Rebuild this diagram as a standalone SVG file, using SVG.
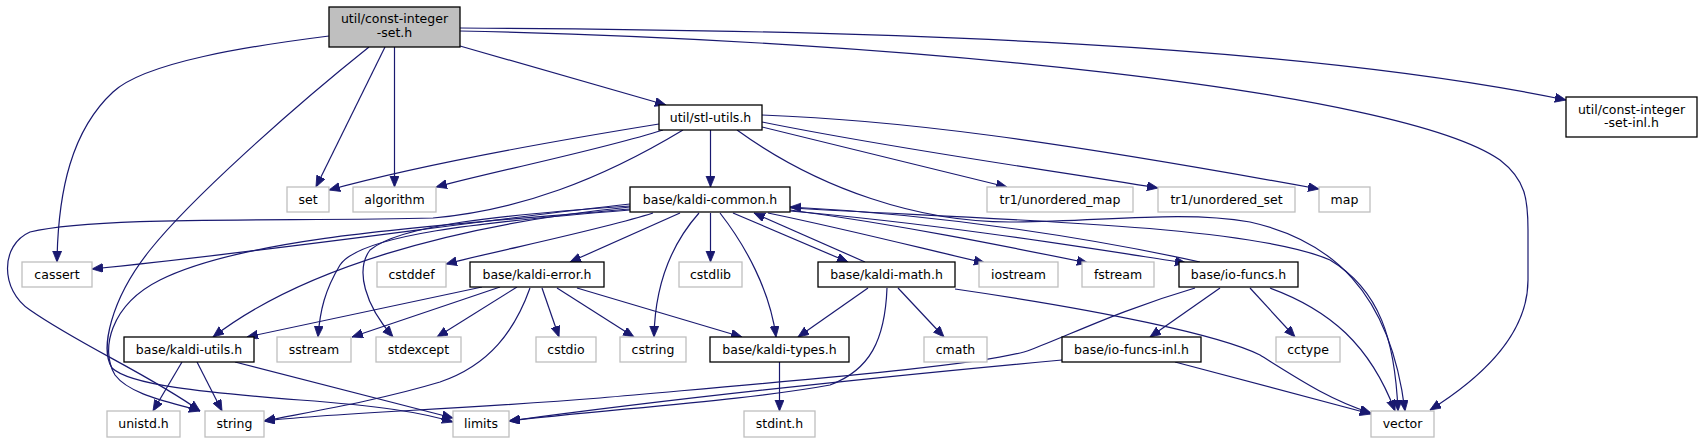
<svg xmlns="http://www.w3.org/2000/svg" width="1703" height="443" viewBox="0 0 1703 443">
<style>
.n rect{fill:#fff;stroke:#000;stroke-width:1.3}
.g rect{fill:#fff;stroke:#bfbfbf;stroke-width:1.3}
.r rect{fill:#bfbfbf;stroke:#000;stroke-width:1.3}
text{font-family:"DejaVu Sans","Liberation Sans",sans-serif;font-size:12.5px;fill:#000;text-anchor:middle}
#edges path{fill:none;stroke:#191970;stroke-width:1.2;marker-end:url(#ah)}
</style>
<defs>
<marker id="ah" markerUnits="userSpaceOnUse" markerWidth="12" markerHeight="10" refX="11" refY="4.5" orient="auto">
<path d="M0,0 L11,4.5 L0,9 z" fill="#191970" stroke="#191970" stroke-width="0.8"/>
</marker>
</defs>
<rect width="1703" height="443" fill="#fff"/>
<g id="edges">
<path d="M460,46 L666,105"/>
<path d="M385,47 L316,187"/>
<path d="M394.5,47 L394.5,187"/>
<path d="M329,36 C250,46 145,62 113,92 C72,130 58,190 57,262"/>
<path d="M369,47 C290,110 190,200 150,250 C110,300 100,350 112,368 C130,385 200,392 300,400 C380,406 420,412 453,422"/>
<path d="M460,28 C900,30 1300,45 1566,100"/>
<path d="M460,31 C900,40 1400,90 1500,160 C1526,180 1528,200 1528,230 L1528,280 C1528,340 1470,385 1430,410"/>
<path d="M659,124 C560,140 420,165 329,190"/>
<path d="M663,130 C600,150 500,170 436,187"/>
<path d="M683,130 C600,180 520,210 433,218 C300,222 100,215 30,232 C0,245 0,290 30,310 C80,345 150,375 200,411"/>
<path d="M710.5,130 L710.5,187"/>
<path d="M762,127 L1007,187"/>
<path d="M762,122 C900,150 1050,170 1158,188"/>
<path d="M762,115 C900,120 1050,140 1319,189"/>
<path d="M737,130 C820,190 920,222 1010,222 C1100,222 1180,210 1250,222 C1330,240 1390,290 1405,411"/>
<path d="M630,204 C480,220 300,248 92,269"/>
<path d="M630,207 C450,225 300,270 213,337"/>
<path d="M630,209 C450,225 250,235 160,280 C110,305 100,350 115,375 C130,395 170,402 200,411"/>
<path d="M630,210 C480,222 360,235 340,265 C325,290 320,310 318,337"/>
<path d="M630,206 C500,215 400,225 370,250 C355,270 365,305 393,337"/>
<path d="M653,213 C600,230 500,250 446,264"/>
<path d="M680,213 L570,262"/>
<path d="M699,213 C675,240 655,280 654,337"/>
<path d="M710.5,213 L710.5,262"/>
<path d="M720,213 C745,245 770,290 776,337"/>
<path d="M733,213 L848,262"/>
<path d="M768,213 C850,230 920,248 985,263"/>
<path d="M790,210 C900,225 1000,245 1088,263"/>
<path d="M790,211 C950,225 1100,250 1186,263"/>
<path d="M790,208 C1000,220 1250,225 1330,260 C1380,290 1395,340 1398,411"/>
<path d="M865,262 L754,213"/>
<path d="M1200,262 C1100,240 950,215 790,207"/>
<path d="M868,288 L798,337"/>
<path d="M898,288 L944,337"/>
<path d="M887,288 C885,340 870,370 830,385 C750,400 600,410 509,421"/>
<path d="M955,289 C1100,310 1220,335 1260,355 C1300,380 1330,400 1371,413"/>
<path d="M1220,288 L1150,337"/>
<path d="M1250,288 L1295,337"/>
<path d="M1270,288 C1330,310 1370,345 1395,411"/>
<path d="M1195,288 C1120,310 1070,335 1030,350 C990,365 800,380 600,398 C450,410 330,413 264,421"/>
<path d="M482,287 L247,337"/>
<path d="M500,287 L352,337"/>
<path d="M517,287 L437,337"/>
<path d="M530,288 C515,330 490,365 440,382 C380,400 320,410 264,421"/>
<path d="M542,288 L559,337"/>
<path d="M557,288 L634,337"/>
<path d="M577,288 L742,337"/>
<path d="M182,362 L153,411"/>
<path d="M197,362 L222,411"/>
<path d="M235,362 L453,418"/>
<path d="M779.5,362 L779.5,411"/>
<path d="M1062,360 C900,375 700,395 509,421"/>
<path d="M1175,362 L1371,414"/>
</g>
<g id="root" class="r"><rect x="329" y="7" width="131" height="40"/><text x="394.5" y="23">util/const-integer</text><text x="394.5" y="36.5">-set.h</text></g>
<g id="inl" class="n"><rect x="1566" y="97" width="131" height="40"/><text x="1631.5" y="113.5">util/const-integer</text><text x="1631.5" y="127">-set-inl.h</text></g>
<g id="stl" class="n"><rect x="659" y="105" width="103" height="25"/><text x="710.5" y="121.5">util/stl-utils.h</text></g>
<g id="set" class="g"><rect x="287" y="187" width="42" height="25"/><text x="308" y="203.5">set</text></g>
<g id="algorithm" class="g"><rect x="353" y="187" width="83" height="25"/><text x="394.5" y="203.5">algorithm</text></g>
<g id="common" class="n"><rect x="630" y="187" width="160" height="25"/><text x="710" y="203.5">base/kaldi-common.h</text></g>
<g id="umap" class="g"><rect x="987" y="187" width="146" height="25"/><text x="1060" y="203.5">tr1/unordered_map</text></g>
<g id="uset" class="g"><rect x="1158" y="187" width="137" height="25"/><text x="1226.5" y="203.5">tr1/unordered_set</text></g>
<g id="map" class="g"><rect x="1319" y="187" width="51" height="25"/><text x="1344.5" y="203.5">map</text></g>
<g id="cassert" class="g"><rect x="22" y="262" width="70" height="25"/><text x="57" y="278.5">cassert</text></g>
<g id="cstddef" class="g"><rect x="377" y="262" width="69" height="25"/><text x="411.5" y="278.5">cstddef</text></g>
<g id="error" class="n"><rect x="470" y="262" width="134" height="25"/><text x="537" y="278.5">base/kaldi-error.h</text></g>
<g id="cstdlib" class="g"><rect x="679" y="262" width="63" height="25"/><text x="710.5" y="278.5">cstdlib</text></g>
<g id="math" class="n"><rect x="818" y="262" width="137" height="25"/><text x="886.5" y="278.5">base/kaldi-math.h</text></g>
<g id="iostream" class="g"><rect x="979" y="262" width="79" height="25"/><text x="1018.5" y="278.5">iostream</text></g>
<g id="fstream" class="g"><rect x="1082" y="262" width="72" height="25"/><text x="1118" y="278.5">fstream</text></g>
<g id="iofuncs" class="n"><rect x="1179" y="262" width="119" height="25"/><text x="1238.5" y="278.5">base/io-funcs.h</text></g>
<g id="utils" class="n"><rect x="124" y="337" width="130" height="25"/><text x="189" y="353.5">base/kaldi-utils.h</text></g>
<g id="sstream" class="g"><rect x="277" y="337" width="74" height="25"/><text x="314" y="353.5">sstream</text></g>
<g id="stdexcept" class="g"><rect x="376" y="337" width="85" height="25"/><text x="418.5" y="353.5">stdexcept</text></g>
<g id="cstdio" class="g"><rect x="536" y="337" width="60" height="25"/><text x="566" y="353.5">cstdio</text></g>
<g id="cstring" class="g"><rect x="620" y="337" width="66" height="25"/><text x="653" y="353.5">cstring</text></g>
<g id="types" class="n"><rect x="710" y="337" width="139" height="25"/><text x="779.5" y="353.5">base/kaldi-types.h</text></g>
<g id="cmath" class="g"><rect x="924" y="337" width="63" height="25"/><text x="955.5" y="353.5">cmath</text></g>
<g id="iofuncsinl" class="n"><rect x="1062" y="337" width="139" height="25"/><text x="1131.5" y="353.5">base/io-funcs-inl.h</text></g>
<g id="cctype" class="g"><rect x="1276" y="337" width="64" height="25"/><text x="1308" y="353.5">cctype</text></g>
<g id="unistd" class="g"><rect x="107" y="411" width="73" height="26"/><text x="143.5" y="427.5">unistd.h</text></g>
<g id="string" class="g"><rect x="205" y="411" width="59" height="26"/><text x="234.5" y="427.5">string</text></g>
<g id="limits" class="g"><rect x="453" y="411" width="56" height="26"/><text x="481" y="427.5">limits</text></g>
<g id="stdint" class="g"><rect x="744" y="411" width="71" height="26"/><text x="779.5" y="427.5">stdint.h</text></g>
<g id="vector" class="g"><rect x="1371" y="411" width="63" height="26"/><text x="1402.5" y="427.5">vector</text></g>
</svg>
